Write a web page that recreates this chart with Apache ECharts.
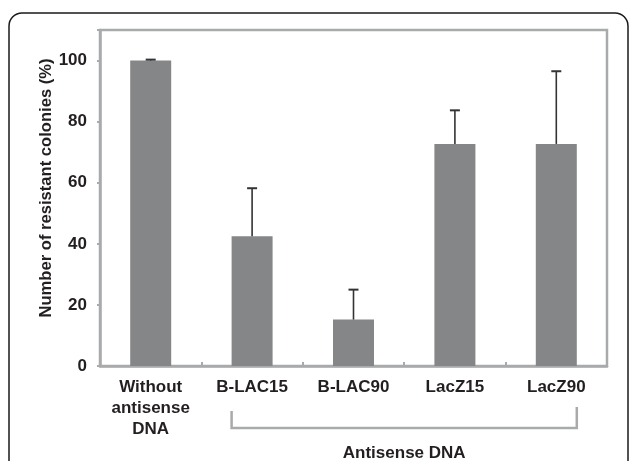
<!DOCTYPE html>
<html>
<head>
<meta charset="utf-8">
<script src="https://cdn.jsdelivr.net/npm/echarts@6/dist/echarts.min.js"></script>
<style>html,body{margin:0;padding:0;background:#fff;}#c{width:629px;height:461px;}</style>
</head>
<body>
<div id="c"></div>
<script>
var categories = ['Without\nantisense\nDNA', 'B-LAC15', 'B-LAC90', 'LacZ15', 'LacZ90'];
var values = [100, 42.5, 15.2, 72.7, 72.7];
var errorHigh = [100.3, 58.2, 25.0, 83.7, 96.5];
var yTicks = [0, 20, 40, 60, 80, 100];
var groupLabel = 'Antisense DNA';
var groupFrom = 'B-LAC15';
var groupTo = 'LacZ90';

var FONT = '"Liberation Sans", Arial, Helvetica, sans-serif';
var TEXT = '#231f20';
var AXIS = '#a9aaac';
var BAR_W = 41;

var chart = echarts.init(document.getElementById('c'), null, {renderer: 'canvas'});

var errData = values.map(function (v, i) { return [i, v, errorHigh[i]]; });

chart.setOption({
  animation: false,
  backgroundColor: '#fff',
  grid: {
    left: 100, right: 22, top: 30, bottom: 95,
    containLabel: false, outerBoundsMode: 'none',
    show: true, borderColor: AXIS, borderWidth: 2.5, backgroundColor: 'transparent'
  },
  xAxis: {
    type: 'category',
    data: categories,
    axisLine: {lineStyle: {color: AXIS, width: 2.5}},
    axisTick: {show: true, inside: true, length: 4, lineStyle: {color: AXIS, width: 2}},
    axisLabel: {
      color: TEXT, fontFamily: FONT, fontWeight: 'bold', fontSize: 17,
      lineHeight: 20.8, margin: 11, interval: 0
    },
    splitLine: {show: false}
  },
  yAxis: {
    type: 'value',
    min: 0, max: 110, interval: 20,
    name: 'Number of resistant colonies (%)',
    nameLocation: 'middle',
    nameGap: 45,
    nameMoveOverlap: false,
    nameTextStyle: {color: TEXT, fontFamily: FONT, fontWeight: 'bold', fontSize: 16.6, padding: [0, 0, 0, 20]},
    axisLine: {show: true, lineStyle: {color: AXIS, width: 2.5}},
    axisTick: {show: true, length: 3, lineStyle: {color: AXIS, width: 2}},
    axisLabel: {
      color: TEXT, fontFamily: FONT, fontWeight: 'bold', fontSize: 17, margin: 13,
      formatter: function (v) { return yTicks.indexOf(v) >= 0 ? String(v) : ''; }
    },
    splitLine: {show: false}
  },
  series: [
    {
      type: 'bar',
      data: values,
      barWidth: BAR_W,
      itemStyle: {color: '#858688'},
      z: 2
    },
    {
      type: 'custom',
      data: errData,
      z: 3,
      renderItem: function (params, api) {
        var i = api.value(0);
        var base = api.coord([i, api.value(1)]);
        var top = api.coord([i, api.value(2)]);
        var cap = 5;
        var st = {stroke: '#333333', lineWidth: 1.6};
        return {
          type: 'group',
          children: [
            {type: 'line', shape: {x1: base[0], y1: base[1], x2: top[0], y2: top[1]}, style: st},
            {type: 'line', shape: {x1: top[0] - cap, y1: top[1], x2: top[0] + cap, y2: top[1]}, style: {stroke: '#333333', lineWidth: 2}}
          ]
        };
      }
    }
  ]
});

var xa = chart.convertToPixel({xAxisIndex: 0}, groupFrom) - BAR_W / 2;
var xb = chart.convertToPixel({xAxisIndex: 0}, groupTo) + BAR_W / 2;
var yLine = 428;

chart.setOption({
  graphic: [
    {
      type: 'rect', silent: true,
      shape: {x: 9, y: 13, width: 619, height: 480, r: 13},
      style: {fill: 'none', stroke: '#1a1a1a', lineWidth: 1.5}
    },
    {
      type: 'polyline', silent: true,
      shape: {points: [[xa, 411], [xa, yLine], [xb, yLine], [xb, 407]]},
      style: {fill: 'none', stroke: AXIS, lineWidth: 2.5}
    },
    {
      type: 'text', silent: true,
      x: (xa + xb) / 2, y: 453,
      style: {
        text: groupLabel, fill: TEXT, font: 'bold 17px ' + FONT,
        align: 'center', verticalAlign: 'middle'
      }
    }
  ]
});
</script>
</body>
</html>
